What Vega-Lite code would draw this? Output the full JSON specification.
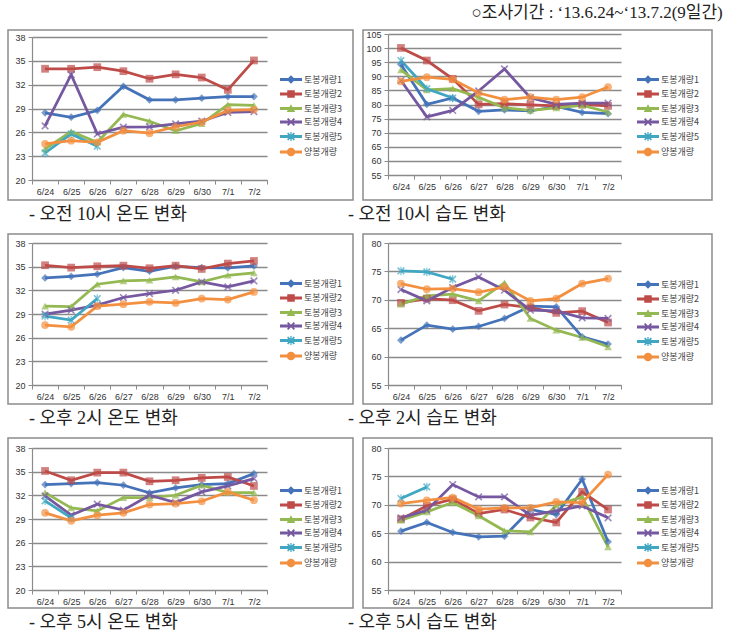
{
"$schema": "https://vega.github.io/schema/vega-lite/v6.json",
"background": "white",
"padding": {"left": 7, "top": 4, "right": 5, "bottom": 3},
"title": {"text": "○조사기간 : ‘13.6.24~‘13.7.2(9일간)", "anchor": "end", "fontSize": 17, "offset": 7, "dx": 10, "font": "Liberation Serif, Noto Sans CJK KR", "fontWeight": "normal", "color": "#222"},
"datasets": {
"a": [
{"date":"6/24","series":"토봉개량1","value":28.45},{"date":"6/25","series":"토봉개량1","value":27.9},{"date":"6/26","series":"토봉개량1","value":28.75},{"date":"6/27","series":"토봉개량1","value":31.8},{"date":"6/28","series":"토봉개량1","value":30.1},{"date":"6/29","series":"토봉개량1","value":30.1},{"date":"6/30","series":"토봉개량1","value":30.3},{"date":"7/1","series":"토봉개량1","value":30.5},{"date":"7/2","series":"토봉개량1","value":30.5},
{"date":"6/24","series":"토봉개량2","value":34.0},{"date":"6/25","series":"토봉개량2","value":34.0},{"date":"6/26","series":"토봉개량2","value":34.2},{"date":"6/27","series":"토봉개량2","value":33.7},{"date":"6/28","series":"토봉개량2","value":32.75},{"date":"6/29","series":"토봉개량2","value":33.3},{"date":"6/30","series":"토봉개량2","value":32.9},{"date":"7/1","series":"토봉개량2","value":31.35},{"date":"7/2","series":"토봉개량2","value":35.05},
{"date":"6/24","series":"토봉개량3","value":23.9},{"date":"6/25","series":"토봉개량3","value":26.1},{"date":"6/26","series":"토봉개량3","value":24.75},{"date":"6/27","series":"토봉개량3","value":28.25},{"date":"6/28","series":"토봉개량3","value":27.4},{"date":"6/29","series":"토봉개량3","value":26.2},{"date":"6/30","series":"토봉개량3","value":27.1},{"date":"7/1","series":"토봉개량3","value":29.5},{"date":"7/2","series":"토봉개량3","value":29.4},
{"date":"6/24","series":"토봉개량4","value":26.8},{"date":"6/25","series":"토봉개량4","value":33.25},{"date":"6/26","series":"토봉개량4","value":25.8},{"date":"6/27","series":"토봉개량4","value":26.65},{"date":"6/28","series":"토봉개량4","value":26.7},{"date":"6/29","series":"토봉개량4","value":27.05},{"date":"6/30","series":"토봉개량4","value":27.4},{"date":"7/1","series":"토봉개량4","value":28.5},{"date":"7/2","series":"토봉개량4","value":28.6},
{"date":"6/24","series":"토봉개량5","value":23.4},{"date":"6/25","series":"토봉개량5","value":25.8},{"date":"6/26","series":"토봉개량5","value":24.25},
{"date":"6/24","series":"양봉개량","value":24.55},{"date":"6/25","series":"양봉개량","value":24.95},{"date":"6/26","series":"양봉개량","value":24.75},{"date":"6/27","series":"양봉개량","value":26.2},{"date":"6/28","series":"양봉개량","value":25.9},{"date":"6/29","series":"양봉개량","value":26.7},{"date":"6/30","series":"양봉개량","value":27.3},{"date":"7/1","series":"양봉개량","value":28.75},{"date":"7/2","series":"양봉개량","value":28.85}
],
"b": [
{"date":"6/24","series":"토봉개량1","value":94.2},{"date":"6/25","series":"토봉개량1","value":80.05},{"date":"6/26","series":"토봉개량1","value":82.3},{"date":"6/27","series":"토봉개량1","value":77.6},{"date":"6/28","series":"토봉개량1","value":78.1},{"date":"6/29","series":"토봉개량1","value":77.7},{"date":"6/30","series":"토봉개량1","value":79.3},{"date":"7/1","series":"토봉개량1","value":77.2},{"date":"7/2","series":"토봉개량1","value":76.8},
{"date":"6/24","series":"토봉개량2","value":100.05},{"date":"6/25","series":"토봉개량2","value":95.6},{"date":"6/26","series":"토봉개량2","value":89.1},{"date":"6/27","series":"토봉개량2","value":80.05},{"date":"6/28","series":"토봉개량2","value":80.3},{"date":"6/29","series":"토봉개량2","value":79.9},{"date":"6/30","series":"토봉개량2","value":79.5},{"date":"7/1","series":"토봉개량2","value":80.05},{"date":"7/2","series":"토봉개량2","value":79.5},
{"date":"6/24","series":"토봉개량3","value":92.3},{"date":"6/25","series":"토봉개량3","value":85.2},{"date":"6/26","series":"토봉개량3","value":85.6},{"date":"6/27","series":"토봉개량3","value":82.6},{"date":"6/28","series":"토봉개량3","value":78.8},{"date":"6/29","series":"토봉개량3","value":77.9},{"date":"6/30","series":"토봉개량3","value":78.8},{"date":"7/1","series":"토봉개량3","value":79.7},{"date":"7/2","series":"토봉개량3","value":77.35},
{"date":"6/24","series":"토봉개량4","value":88.5},{"date":"6/25","series":"토봉개량4","value":75.6},{"date":"6/26","series":"토봉개량4","value":77.9},{"date":"6/27","series":"토봉개량4","value":84.8},{"date":"6/28","series":"토봉개량4","value":92.6},{"date":"6/29","series":"토봉개량4","value":82.4},{"date":"6/30","series":"토봉개량4","value":80.05},{"date":"7/1","series":"토봉개량4","value":80.5},{"date":"7/2","series":"토봉개량4","value":80.5},
{"date":"6/24","series":"토봉개량5","value":95.6},{"date":"6/25","series":"토봉개량5","value":85.6},{"date":"6/26","series":"토봉개량5","value":82.3},
{"date":"6/24","series":"양봉개량","value":88.2},{"date":"6/25","series":"양봉개량","value":89.7},{"date":"6/26","series":"양봉개량","value":88.9},{"date":"6/27","series":"양봉개량","value":84.05},{"date":"6/28","series":"양봉개량","value":81.7},{"date":"6/29","series":"양봉개량","value":82.6},{"date":"6/30","series":"양봉개량","value":81.7},{"date":"7/1","series":"양봉개량","value":82.6},{"date":"7/2","series":"양봉개량","value":86.2}
],
"c": [
{"date":"6/24","series":"토봉개량1","value":33.57},{"date":"6/25","series":"토봉개량1","value":33.78},{"date":"6/26","series":"토봉개량1","value":34.04},{"date":"6/27","series":"토봉개량1","value":34.88},{"date":"6/28","series":"토봉개량1","value":34.42},{"date":"6/29","series":"토봉개량1","value":35.05},{"date":"6/30","series":"토봉개량1","value":34.88},{"date":"7/1","series":"토봉개량1","value":34.84},{"date":"7/2","series":"토봉개량1","value":35.1},
{"date":"6/24","series":"토봉개량2","value":35.18},{"date":"6/25","series":"토봉개량2","value":34.88},{"date":"6/26","series":"토봉개량2","value":35.05},{"date":"6/27","series":"토봉개량2","value":35.13},{"date":"6/28","series":"토봉개량2","value":34.8},{"date":"6/29","series":"토봉개량2","value":35.13},{"date":"6/30","series":"토봉개량2","value":34.71},{"date":"7/1","series":"토봉개량2","value":35.39},{"date":"7/2","series":"토봉개량2","value":35.72},
{"date":"6/24","series":"토봉개량3","value":30.0},{"date":"6/25","series":"토봉개량3","value":29.95},{"date":"6/26","series":"토봉개량3","value":32.77},{"date":"6/27","series":"토봉개량3","value":33.19},{"date":"6/28","series":"토봉개량3","value":33.28},{"date":"6/29","series":"토봉개량3","value":33.7},{"date":"6/30","series":"토봉개량3","value":33.07},{"date":"7/1","series":"토봉개량3","value":33.91},{"date":"7/2","series":"토봉개량3","value":34.2},
{"date":"6/24","series":"토봉개량4","value":28.98},{"date":"6/25","series":"토봉개량4","value":29.48},{"date":"6/26","series":"토봉개량4","value":30.12},{"date":"6/27","series":"토봉개량4","value":31.09},{"date":"6/28","series":"토봉개량4","value":31.59},{"date":"6/29","series":"토봉개량4","value":32.01},{"date":"6/30","series":"토봉개량4","value":33.07},{"date":"7/1","series":"토봉개량4","value":32.43},{"date":"7/2","series":"토봉개량4","value":33.19},
{"date":"6/24","series":"토봉개량5","value":28.73},{"date":"6/25","series":"토봉개량5","value":28.22},{"date":"6/26","series":"토봉개량5","value":30.96},
{"date":"6/24","series":"양봉개량","value":27.59},{"date":"6/25","series":"양봉개량","value":27.38},{"date":"6/26","series":"양봉개량","value":29.99},{"date":"6/27","series":"양봉개량","value":30.24},{"date":"6/28","series":"양봉개량","value":30.54},{"date":"6/29","series":"양봉개량","value":30.41},{"date":"6/30","series":"양봉개량","value":30.96},{"date":"7/1","series":"양봉개량","value":30.83},{"date":"7/2","series":"양봉개량","value":31.8}
],
"d": [
{"date":"6/24","series":"토봉개량1","value":62.9},{"date":"6/25","series":"토봉개량1","value":65.54},{"date":"6/26","series":"토봉개량1","value":64.84},{"date":"6/27","series":"토봉개량1","value":65.3},{"date":"6/28","series":"토봉개량1","value":66.71},{"date":"6/29","series":"토봉개량1","value":68.88},{"date":"6/30","series":"토봉개량1","value":68.76},{"date":"7/1","series":"토봉개량1","value":63.49},{"date":"7/2","series":"토봉개량1","value":62.2},
{"date":"6/24","series":"토봉개량2","value":69.46},{"date":"6/25","series":"토봉개량2","value":70.22},{"date":"6/26","series":"토봉개량2","value":69.93},{"date":"6/27","series":"토봉개량2","value":68.06},{"date":"6/28","series":"토봉개량2","value":69.17},{"date":"6/29","series":"토봉개량2","value":68.64},{"date":"6/30","series":"토봉개량2","value":67.7},{"date":"7/1","series":"토봉개량2","value":68.0},{"date":"7/2","series":"토봉개량2","value":66.0},
{"date":"6/24","series":"토봉개량3","value":69.23},{"date":"6/25","series":"토봉개량3","value":70.69},{"date":"6/26","series":"토봉개량3","value":70.98},{"date":"6/27","series":"토봉개량3","value":69.81},{"date":"6/28","series":"토봉개량3","value":72.97},{"date":"6/29","series":"토봉개량3","value":66.71},{"date":"6/30","series":"토봉개량3","value":64.66},{"date":"7/1","series":"토봉개량3","value":63.37},{"date":"7/2","series":"토봉개량3","value":61.73},
{"date":"6/24","series":"토봉개량4","value":71.8},{"date":"6/25","series":"토봉개량4","value":69.81},{"date":"6/26","series":"토봉개량4","value":72.15},{"date":"6/27","series":"토봉개량4","value":74.03},{"date":"6/28","series":"토봉개량4","value":71.69},{"date":"6/29","series":"토봉개량4","value":68.17},{"date":"6/30","series":"토봉개량4","value":68.06},{"date":"7/1","series":"토봉개량4","value":66.83},{"date":"7/2","series":"토봉개량4","value":66.71},
{"date":"6/24","series":"토봉개량5","value":75.08},{"date":"6/25","series":"토봉개량5","value":74.91},{"date":"6/26","series":"토봉개량5","value":73.62},
{"date":"6/24","series":"양봉개량","value":72.86},{"date":"6/25","series":"양봉개량","value":71.86},{"date":"6/26","series":"양봉개량","value":71.98},{"date":"6/27","series":"양봉개량","value":71.33},{"date":"6/28","series":"양봉개량","value":72.27},{"date":"6/29","series":"양봉개량","value":69.81},{"date":"6/30","series":"양봉개량","value":70.22},{"date":"7/1","series":"양봉개량","value":72.86},{"date":"7/2","series":"양봉개량","value":73.74}
],
"e": [
{"date":"6/24","series":"토봉개량1","value":33.36},{"date":"6/25","series":"토봉개량1","value":33.49},{"date":"6/26","series":"토봉개량1","value":33.62},{"date":"6/27","series":"토봉개량1","value":33.28},{"date":"6/28","series":"토봉개량1","value":32.31},{"date":"6/29","series":"토봉개량1","value":32.94},{"date":"6/30","series":"토봉개량1","value":33.36},{"date":"7/1","series":"토봉개량1","value":33.49},{"date":"7/2","series":"토봉개량1","value":34.75},
{"date":"6/24","series":"토봉개량2","value":35.09},{"date":"6/25","series":"토봉개량2","value":33.91},{"date":"6/26","series":"토봉개량2","value":34.88},{"date":"6/27","series":"토봉개량2","value":34.88},{"date":"6/28","series":"토봉개량2","value":33.78},{"date":"6/29","series":"토봉개량2","value":33.91},{"date":"6/30","series":"토봉개량2","value":34.21},{"date":"7/1","series":"토봉개량2","value":34.33},{"date":"7/2","series":"토봉개량2","value":33.19},
{"date":"6/24","series":"토봉개량3","value":32.35},{"date":"6/25","series":"토봉개량3","value":30.41},{"date":"6/26","series":"토봉개량3","value":30.03},{"date":"6/27","series":"토봉개량3","value":31.72},{"date":"6/28","series":"토봉개량3","value":31.72},{"date":"6/29","series":"토봉개량3","value":32.01},{"date":"6/30","series":"토봉개량3","value":33.28},{"date":"7/1","series":"토봉개량3","value":32.35},{"date":"7/2","series":"토봉개량3","value":32.35},
{"date":"6/24","series":"토봉개량4","value":31.93},{"date":"6/25","series":"토봉개량4","value":29.48},{"date":"6/26","series":"토봉개량4","value":30.88},{"date":"6/27","series":"토봉개량4","value":30.12},{"date":"6/28","series":"토봉개량4","value":32.01},{"date":"6/29","series":"토봉개량4","value":31.09},{"date":"6/30","series":"토봉개량4","value":32.44},{"date":"7/1","series":"토봉개량4","value":33.19},{"date":"7/2","series":"토봉개량4","value":34.12},
{"date":"6/24","series":"토봉개량5","value":31.3},{"date":"6/25","series":"토봉개량5","value":29.15},
{"date":"6/24","series":"양봉개량","value":29.78},{"date":"6/25","series":"양봉개량","value":28.77},{"date":"6/26","series":"양봉개량","value":29.48},{"date":"6/27","series":"양봉개량","value":29.78},{"date":"6/28","series":"양봉개량","value":30.83},{"date":"6/29","series":"양봉개량","value":30.96},{"date":"6/30","series":"양봉개량","value":31.25},{"date":"7/1","series":"양봉개량","value":32.44},{"date":"7/2","series":"양봉개량","value":31.38}
],
"f": [
{"date":"6/24","series":"토봉개량1","value":65.36},{"date":"6/25","series":"토봉개량1","value":66.89},{"date":"6/26","series":"토봉개량1","value":65.13},{"date":"6/27","series":"토봉개량1","value":64.37},{"date":"6/28","series":"토봉개량1","value":64.48},{"date":"6/29","series":"토봉개량1","value":69.17},{"date":"6/30","series":"토봉개량1","value":68.29},{"date":"7/1","series":"토봉개량1","value":74.5},{"date":"7/2","series":"토봉개량1","value":63.49},
{"date":"6/24","series":"토봉개량2","value":67.47},{"date":"6/25","series":"토봉개량2","value":69.81},{"date":"6/26","series":"토봉개량2","value":70.98},{"date":"6/27","series":"토봉개량2","value":68.47},{"date":"6/28","series":"토봉개량2","value":69.17},{"date":"6/29","series":"토봉개량2","value":67.76},{"date":"6/30","series":"토봉개량2","value":66.89},{"date":"7/1","series":"토봉개량2","value":72.27},{"date":"7/2","series":"토봉개량2","value":69.17},
{"date":"6/24","series":"토봉개량3","value":67.29},{"date":"6/25","series":"토봉개량3","value":68.76},{"date":"6/26","series":"토봉개량3","value":70.4},{"date":"6/27","series":"토봉개량3","value":68.06},{"date":"6/28","series":"토봉개량3","value":65.42},{"date":"6/29","series":"토봉개량3","value":65.25},{"date":"6/30","series":"토봉개량3","value":69.93},{"date":"7/1","series":"토봉개량3","value":71.39},{"date":"7/2","series":"토봉개량3","value":62.61},
{"date":"6/24","series":"토봉개량4","value":67.7},{"date":"6/25","series":"토봉개량4","value":69.05},{"date":"6/26","series":"토봉개량4","value":73.56},{"date":"6/27","series":"토봉개량4","value":71.39},{"date":"6/28","series":"토봉개량4","value":71.39},{"date":"6/29","series":"토봉개량4","value":68.17},{"date":"6/30","series":"토봉개량4","value":68.93},{"date":"7/1","series":"토봉개량4","value":69.81},{"date":"7/2","series":"토봉개량4","value":67.7},
{"date":"6/24","series":"토봉개량5","value":71.1},{"date":"6/25","series":"토봉개량5","value":73.15},
{"date":"6/24","series":"양봉개량","value":70.22},{"date":"6/25","series":"양봉개량","value":70.8},{"date":"6/26","series":"양봉개량","value":71.28},{"date":"6/27","series":"양봉개량","value":69.23},{"date":"6/28","series":"양봉개량","value":69.46},{"date":"6/29","series":"양봉개량","value":69.46},{"date":"6/30","series":"양봉개량","value":70.51},{"date":"7/1","series":"양봉개량","value":70.4},{"date":"7/2","series":"양봉개량","value":75.32}
]
},
"vconcat": [
{"hconcat": [
{"data": {"name": "a"}, "width": 345, "height": 170,
 "title": {"text": "- 오전 10시 온도 변화", "orient": "bottom", "anchor": "start", "frame": "group", "offset": 6, "dx": 21, "fontSize": 18, "baseline": "top"},
 "encoding": {
  "x": {"field": "date", "type": "ordinal", "title": null, "scale": {"type": "band", "domain": ["6/24","6/25","6/26","6/27","6/28","6/29","6/30","7/1","7/2"], "range": [24, 259], "paddingInner": 0, "paddingOuter": 0}, "axis": {"offset": -20}},
  "y": {"field": "value", "type": "quantitative", "title": null, "scale": {"domain": [20, 38], "range": [150, 7], "nice": false, "zero": false}, "axis": {"values": [20,23,26,29,32,35,38], "offset": -24}}
 },
 "layer": [
  {"mark": "line", "encoding": {"stroke": {"field": "series", "type": "nominal", "scale": {"domain": ["토봉개량5","토봉개량1","토봉개량2","토봉개량3","토봉개량4","양봉개량"], "range": ["#40A6C2","#4573B9","#BE4B48","#94B952","#7558A0","#F39040"]}, "legend": null}}},
  {"mark": "point", "encoding": {
    "fill": {"field": "series", "type": "nominal", "scale": {"domain": ["양봉개량","토봉개량1","토봉개량2","토봉개량3","토봉개량4","토봉개량5"], "range": ["#F39040","#4573B9","#BE4B48","#94B952","#7558A0","#40A6C2"]}, "legend": null},
    "shape": {"field": "series", "type": "nominal", "scale": {"domain": ["양봉개량","토봉개량1","토봉개량2","토봉개량3","토봉개량4","토봉개량5"], "range": ["circle","diamond","square","triangle-up","M-1,-0.7L-0.7,-1L0,-0.3L0.7,-1L1,-0.7L0.3,0L1,0.7L0.7,1L0,0.3L-0.7,1L-1,0.7L-0.3,0Z","M-1,-0.7L-0.7,-1L0,-0.3L0.7,-1L1,-0.7L0.3,0L1,0.7L0.7,1L0,0.3L-0.7,1L-1,0.7L-0.3,0ZM-0.15,-1.1H0.15V1.1H-0.15Z"]}, "legend": null}}},
  {"mark": {"type": "point", "opacity": 0}, "encoding": {
    "fill": {"field": "series", "type": "nominal", "scale": {"domain": ["토봉개량1","토봉개량2","토봉개량3","토봉개량4","토봉개량5","양봉개량"], "range": ["#4573B9","#BE4B48","#94B952","#7558A0","#40A6C2","#F39040"]}, "legend": {"orient": "none", "title": null, "legendX": 277, "legendY": 43.5, "symbolOpacity": 1}},
    "shape": {"field": "series", "type": "nominal", "scale": {"domain": ["토봉개량1","토봉개량2","토봉개량3","토봉개량4","토봉개량5","양봉개량"], "range": ["M-2.2,-0.28H2.2V0.28H-2.2ZM0,-0.85L0.85,0L0,0.85L-0.85,0Z","M-2.2,-0.28H2.2V0.28H-2.2ZM-0.75,-0.75H0.75V0.75H-0.75Z","M-2.2,-0.28H2.2V0.28H-2.2ZM0,-0.85L0.85,0.7H-0.85Z","M-2.2,-0.28H2.2V0.28H-2.2ZM-0.8,-0.56L-0.56,-0.8L0,-0.24L0.56,-0.8L0.8,-0.56L0.24,0L0.8,0.56L0.56,0.8L0,0.24L-0.56,0.8L-0.8,0.56L-0.24,0Z","M-2.2,-0.28H2.2V0.28H-2.2ZM-0.8,-0.56L-0.56,-0.8L0,-0.24L0.56,-0.8L0.8,-0.56L0.24,0L0.8,0.56L0.56,0.8L0,0.24L-0.56,0.8L-0.8,0.56L-0.24,0ZM-0.12,-0.9H0.12V0.9H-0.12Z","M-2.2,-0.28H2.2V0.28H-2.2ZM-0.85,0A0.85,0.85 0 1,1 0.85,0A0.85,0.85 0 1,1 -0.85,0Z"]}, "legend": {"orient": "none", "title": null, "legendX": 277, "legendY": 43.5, "symbolOpacity": 1}}}}
 ],
 "resolve": {"scale": {"fill": "independent", "stroke": "independent", "shape": "independent"}, "legend": {"fill": "independent", "stroke": "independent", "shape": "independent"}}
},
{"data": {"name": "b"}, "width": 349, "height": 170,
 "title": {"text": "- 오전 10시 습도 변화", "orient": "bottom", "anchor": "start", "frame": "group", "offset": 6, "dx": -15, "fontSize": 18, "baseline": "top"},
 "encoding": {
  "x": {"field": "date", "type": "ordinal", "title": null, "scale": {"type": "band", "domain": ["6/24","6/25","6/26","6/27","6/28","6/29","6/30","7/1","7/2"], "range": [25, 258], "paddingInner": 0, "paddingOuter": 0}, "axis": {"offset": -25}},
  "y": {"field": "value", "type": "quantitative", "title": null, "scale": {"domain": [55, 105], "range": [145, 4], "nice": false, "zero": false}, "axis": {"values": [55,60,65,70,75,80,85,90,95,100,105], "offset": -25}}
 },
 "layer": [
  {"mark": "line", "encoding": {"stroke": {"field": "series", "type": "nominal", "scale": {"domain": ["토봉개량5","토봉개량1","토봉개량2","토봉개량3","토봉개량4","양봉개량"], "range": ["#40A6C2","#4573B9","#BE4B48","#94B952","#7558A0","#F39040"]}, "legend": null}}},
  {"mark": "point", "encoding": {
    "fill": {"field": "series", "type": "nominal", "scale": {"domain": ["양봉개량","토봉개량1","토봉개량2","토봉개량3","토봉개량4","토봉개량5"], "range": ["#F39040","#4573B9","#BE4B48","#94B952","#7558A0","#40A6C2"]}, "legend": null},
    "shape": {"field": "series", "type": "nominal", "scale": {"domain": ["양봉개량","토봉개량1","토봉개량2","토봉개량3","토봉개량4","토봉개량5"], "range": ["circle","diamond","square","triangle-up","M-1,-0.7L-0.7,-1L0,-0.3L0.7,-1L1,-0.7L0.3,0L1,0.7L0.7,1L0,0.3L-0.7,1L-1,0.7L-0.3,0Z","M-1,-0.7L-0.7,-1L0,-0.3L0.7,-1L1,-0.7L0.3,0L1,0.7L0.7,1L0,0.3L-0.7,1L-1,0.7L-0.3,0ZM-0.15,-1.1H0.15V1.1H-0.15Z"]}, "legend": null}}},
  {"mark": {"type": "point", "opacity": 0}, "encoding": {
    "fill": {"field": "series", "type": "nominal", "scale": {"domain": ["토봉개량1","토봉개량2","토봉개량3","토봉개량4","토봉개량5","양봉개량"], "range": ["#4573B9","#BE4B48","#94B952","#7558A0","#40A6C2","#F39040"]}, "legend": {"orient": "none", "title": null, "legendX": 279, "legendY": 43.5, "symbolOpacity": 1}},
    "shape": {"field": "series", "type": "nominal", "scale": {"domain": ["토봉개량1","토봉개량2","토봉개량3","토봉개량4","토봉개량5","양봉개량"], "range": ["M-2.2,-0.28H2.2V0.28H-2.2ZM0,-0.85L0.85,0L0,0.85L-0.85,0Z","M-2.2,-0.28H2.2V0.28H-2.2ZM-0.75,-0.75H0.75V0.75H-0.75Z","M-2.2,-0.28H2.2V0.28H-2.2ZM0,-0.85L0.85,0.7H-0.85Z","M-2.2,-0.28H2.2V0.28H-2.2ZM-0.8,-0.56L-0.56,-0.8L0,-0.24L0.56,-0.8L0.8,-0.56L0.24,0L0.8,0.56L0.56,0.8L0,0.24L-0.56,0.8L-0.8,0.56L-0.24,0Z","M-2.2,-0.28H2.2V0.28H-2.2ZM-0.8,-0.56L-0.56,-0.8L0,-0.24L0.56,-0.8L0.8,-0.56L0.24,0L0.8,0.56L0.56,0.8L0,0.24L-0.56,0.8L-0.8,0.56L-0.24,0ZM-0.12,-0.9H0.12V0.9H-0.12Z","M-2.2,-0.28H2.2V0.28H-2.2ZM-0.85,0A0.85,0.85 0 1,1 0.85,0A0.85,0.85 0 1,1 -0.85,0Z"]}, "legend": {"orient": "none", "title": null, "legendX": 279, "legendY": 43.5, "symbolOpacity": 1}}}}
 ],
 "resolve": {"scale": {"fill": "independent", "stroke": "independent", "shape": "independent"}, "legend": {"fill": "independent", "stroke": "independent", "shape": "independent"}}
}
], "spacing": -7, "resolve": {"scale": {"fill": "independent", "stroke": "independent", "shape": "independent"}, "legend": {"fill": "independent", "stroke": "independent", "shape": "independent"}}},
{"hconcat": [
{"data": {"name": "c"}, "width": 345, "height": 170,
 "title": {"text": "- 오후 2시 온도 변화", "orient": "bottom", "anchor": "start", "frame": "group", "offset": 6, "dx": 21, "fontSize": 18, "baseline": "top"},
 "encoding": {
  "x": {"field": "date", "type": "ordinal", "title": null, "scale": {"type": "band", "domain": ["6/24","6/25","6/26","6/27","6/28","6/29","6/30","7/1","7/2"], "range": [24, 259], "paddingInner": 0, "paddingOuter": 0}, "axis": {"offset": -19}},
  "y": {"field": "value", "type": "quantitative", "title": null, "scale": {"domain": [20, 38], "range": [151, 9], "nice": false, "zero": false}, "axis": {"values": [20,23,26,29,32,35,38], "offset": -24}}
 },
 "layer": [
  {"mark": "line", "encoding": {"stroke": {"field": "series", "type": "nominal", "scale": {"domain": ["토봉개량5","토봉개량1","토봉개량2","토봉개량3","토봉개량4","양봉개량"], "range": ["#40A6C2","#4573B9","#BE4B48","#94B952","#7558A0","#F39040"]}, "legend": null}}},
  {"mark": "point", "encoding": {
    "fill": {"field": "series", "type": "nominal", "scale": {"domain": ["양봉개량","토봉개량1","토봉개량2","토봉개량3","토봉개량4","토봉개량5"], "range": ["#F39040","#4573B9","#BE4B48","#94B952","#7558A0","#40A6C2"]}, "legend": null},
    "shape": {"field": "series", "type": "nominal", "scale": {"domain": ["양봉개량","토봉개량1","토봉개량2","토봉개량3","토봉개량4","토봉개량5"], "range": ["circle","diamond","square","triangle-up","M-1,-0.7L-0.7,-1L0,-0.3L0.7,-1L1,-0.7L0.3,0L1,0.7L0.7,1L0,0.3L-0.7,1L-1,0.7L-0.3,0Z","M-1,-0.7L-0.7,-1L0,-0.3L0.7,-1L1,-0.7L0.3,0L1,0.7L0.7,1L0,0.3L-0.7,1L-1,0.7L-0.3,0ZM-0.15,-1.1H0.15V1.1H-0.15Z"]}, "legend": null}}},
  {"mark": {"type": "point", "opacity": 0}, "encoding": {
    "fill": {"field": "series", "type": "nominal", "scale": {"domain": ["토봉개량1","토봉개량2","토봉개량3","토봉개량4","토봉개량5","양봉개량"], "range": ["#4573B9","#BE4B48","#94B952","#7558A0","#40A6C2","#F39040"]}, "legend": {"orient": "none", "title": null, "legendX": 277, "legendY": 43.5, "symbolOpacity": 1}},
    "shape": {"field": "series", "type": "nominal", "scale": {"domain": ["토봉개량1","토봉개량2","토봉개량3","토봉개량4","토봉개량5","양봉개량"], "range": ["M-2.2,-0.28H2.2V0.28H-2.2ZM0,-0.85L0.85,0L0,0.85L-0.85,0Z","M-2.2,-0.28H2.2V0.28H-2.2ZM-0.75,-0.75H0.75V0.75H-0.75Z","M-2.2,-0.28H2.2V0.28H-2.2ZM0,-0.85L0.85,0.7H-0.85Z","M-2.2,-0.28H2.2V0.28H-2.2ZM-0.8,-0.56L-0.56,-0.8L0,-0.24L0.56,-0.8L0.8,-0.56L0.24,0L0.8,0.56L0.56,0.8L0,0.24L-0.56,0.8L-0.8,0.56L-0.24,0Z","M-2.2,-0.28H2.2V0.28H-2.2ZM-0.8,-0.56L-0.56,-0.8L0,-0.24L0.56,-0.8L0.8,-0.56L0.24,0L0.8,0.56L0.56,0.8L0,0.24L-0.56,0.8L-0.8,0.56L-0.24,0ZM-0.12,-0.9H0.12V0.9H-0.12Z","M-2.2,-0.28H2.2V0.28H-2.2ZM-0.85,0A0.85,0.85 0 1,1 0.85,0A0.85,0.85 0 1,1 -0.85,0Z"]}, "legend": {"orient": "none", "title": null, "legendX": 277, "legendY": 43.5, "symbolOpacity": 1}}}}
 ],
 "resolve": {"scale": {"fill": "independent", "stroke": "independent", "shape": "independent"}, "legend": {"fill": "independent", "stroke": "independent", "shape": "independent"}}
},
{"data": {"name": "d"}, "width": 349, "height": 170,
 "title": {"text": "- 오후 2시 습도 변화", "orient": "bottom", "anchor": "start", "frame": "group", "offset": 6, "dx": -15, "fontSize": 18, "baseline": "top"},
 "encoding": {
  "x": {"field": "date", "type": "ordinal", "title": null, "scale": {"type": "band", "domain": ["6/24","6/25","6/26","6/27","6/28","6/29","6/30","7/1","7/2"], "range": [25, 258], "paddingInner": 0, "paddingOuter": 0}, "axis": {"offset": -19}},
  "y": {"field": "value", "type": "quantitative", "title": null, "scale": {"domain": [55, 80], "range": [151, 9], "nice": false, "zero": false}, "axis": {"values": [55,60,65,70,75,80], "offset": -25}}
 },
 "layer": [
  {"mark": "line", "encoding": {"stroke": {"field": "series", "type": "nominal", "scale": {"domain": ["토봉개량5","토봉개량1","토봉개량2","토봉개량3","토봉개량4","양봉개량"], "range": ["#40A6C2","#4573B9","#BE4B48","#94B952","#7558A0","#F39040"]}, "legend": null}}},
  {"mark": "point", "encoding": {
    "fill": {"field": "series", "type": "nominal", "scale": {"domain": ["양봉개량","토봉개량1","토봉개량2","토봉개량3","토봉개량4","토봉개량5"], "range": ["#F39040","#4573B9","#BE4B48","#94B952","#7558A0","#40A6C2"]}, "legend": null},
    "shape": {"field": "series", "type": "nominal", "scale": {"domain": ["양봉개량","토봉개량1","토봉개량2","토봉개량3","토봉개량4","토봉개량5"], "range": ["circle","diamond","square","triangle-up","M-1,-0.7L-0.7,-1L0,-0.3L0.7,-1L1,-0.7L0.3,0L1,0.7L0.7,1L0,0.3L-0.7,1L-1,0.7L-0.3,0Z","M-1,-0.7L-0.7,-1L0,-0.3L0.7,-1L1,-0.7L0.3,0L1,0.7L0.7,1L0,0.3L-0.7,1L-1,0.7L-0.3,0ZM-0.15,-1.1H0.15V1.1H-0.15Z"]}, "legend": null}}},
  {"mark": {"type": "point", "opacity": 0}, "encoding": {
    "fill": {"field": "series", "type": "nominal", "scale": {"domain": ["토봉개량1","토봉개량2","토봉개량3","토봉개량4","토봉개량5","양봉개량"], "range": ["#4573B9","#BE4B48","#94B952","#7558A0","#40A6C2","#F39040"]}, "legend": {"orient": "none", "title": null, "legendX": 279, "legendY": 44.5, "symbolOpacity": 1}},
    "shape": {"field": "series", "type": "nominal", "scale": {"domain": ["토봉개량1","토봉개량2","토봉개량3","토봉개량4","토봉개량5","양봉개량"], "range": ["M-2.2,-0.28H2.2V0.28H-2.2ZM0,-0.85L0.85,0L0,0.85L-0.85,0Z","M-2.2,-0.28H2.2V0.28H-2.2ZM-0.75,-0.75H0.75V0.75H-0.75Z","M-2.2,-0.28H2.2V0.28H-2.2ZM0,-0.85L0.85,0.7H-0.85Z","M-2.2,-0.28H2.2V0.28H-2.2ZM-0.8,-0.56L-0.56,-0.8L0,-0.24L0.56,-0.8L0.8,-0.56L0.24,0L0.8,0.56L0.56,0.8L0,0.24L-0.56,0.8L-0.8,0.56L-0.24,0Z","M-2.2,-0.28H2.2V0.28H-2.2ZM-0.8,-0.56L-0.56,-0.8L0,-0.24L0.56,-0.8L0.8,-0.56L0.24,0L0.8,0.56L0.56,0.8L0,0.24L-0.56,0.8L-0.8,0.56L-0.24,0ZM-0.12,-0.9H0.12V0.9H-0.12Z","M-2.2,-0.28H2.2V0.28H-2.2ZM-0.85,0A0.85,0.85 0 1,1 0.85,0A0.85,0.85 0 1,1 -0.85,0Z"]}, "legend": {"orient": "none", "title": null, "legendX": 279, "legendY": 44.5, "symbolOpacity": 1}}}}
 ],
 "resolve": {"scale": {"fill": "independent", "stroke": "independent", "shape": "independent"}, "legend": {"fill": "independent", "stroke": "independent", "shape": "independent"}}
}
], "spacing": -7, "resolve": {"scale": {"fill": "independent", "stroke": "independent", "shape": "independent"}, "legend": {"fill": "independent", "stroke": "independent", "shape": "independent"}}},
{"hconcat": [
{"data": {"name": "e"}, "width": 345, "height": 170,
 "title": {"text": "- 오후 5시 온도 변화", "orient": "bottom", "anchor": "start", "frame": "group", "offset": 6, "dx": 21, "fontSize": 18, "baseline": "top"},
 "encoding": {
  "x": {"field": "date", "type": "ordinal", "title": null, "scale": {"type": "band", "domain": ["6/24","6/25","6/26","6/27","6/28","6/29","6/30","7/1","7/2"], "range": [24, 259], "paddingInner": 0, "paddingOuter": 0}, "axis": {"offset": -18}},
  "y": {"field": "value", "type": "quantitative", "title": null, "scale": {"domain": [20, 38], "range": [152, 10], "nice": false, "zero": false}, "axis": {"values": [20,23,26,29,32,35,38], "offset": -24}}
 },
 "layer": [
  {"mark": "line", "encoding": {"stroke": {"field": "series", "type": "nominal", "scale": {"domain": ["토봉개량5","토봉개량1","토봉개량2","토봉개량3","토봉개량4","양봉개량"], "range": ["#40A6C2","#4573B9","#BE4B48","#94B952","#7558A0","#F39040"]}, "legend": null}}},
  {"mark": "point", "encoding": {
    "fill": {"field": "series", "type": "nominal", "scale": {"domain": ["양봉개량","토봉개량1","토봉개량2","토봉개량3","토봉개량4","토봉개량5"], "range": ["#F39040","#4573B9","#BE4B48","#94B952","#7558A0","#40A6C2"]}, "legend": null},
    "shape": {"field": "series", "type": "nominal", "scale": {"domain": ["양봉개량","토봉개량1","토봉개량2","토봉개량3","토봉개량4","토봉개량5"], "range": ["circle","diamond","square","triangle-up","M-1,-0.7L-0.7,-1L0,-0.3L0.7,-1L1,-0.7L0.3,0L1,0.7L0.7,1L0,0.3L-0.7,1L-1,0.7L-0.3,0Z","M-1,-0.7L-0.7,-1L0,-0.3L0.7,-1L1,-0.7L0.3,0L1,0.7L0.7,1L0,0.3L-0.7,1L-1,0.7L-0.3,0ZM-0.15,-1.1H0.15V1.1H-0.15Z"]}, "legend": null}}},
  {"mark": {"type": "point", "opacity": 0}, "encoding": {
    "fill": {"field": "series", "type": "nominal", "scale": {"domain": ["토봉개량1","토봉개량2","토봉개량3","토봉개량4","토봉개량5","양봉개량"], "range": ["#4573B9","#BE4B48","#94B952","#7558A0","#40A6C2","#F39040"]}, "legend": {"orient": "none", "title": null, "legendX": 277, "legendY": 46.5, "symbolOpacity": 1}},
    "shape": {"field": "series", "type": "nominal", "scale": {"domain": ["토봉개량1","토봉개량2","토봉개량3","토봉개량4","토봉개량5","양봉개량"], "range": ["M-2.2,-0.28H2.2V0.28H-2.2ZM0,-0.85L0.85,0L0,0.85L-0.85,0Z","M-2.2,-0.28H2.2V0.28H-2.2ZM-0.75,-0.75H0.75V0.75H-0.75Z","M-2.2,-0.28H2.2V0.28H-2.2ZM0,-0.85L0.85,0.7H-0.85Z","M-2.2,-0.28H2.2V0.28H-2.2ZM-0.8,-0.56L-0.56,-0.8L0,-0.24L0.56,-0.8L0.8,-0.56L0.24,0L0.8,0.56L0.56,0.8L0,0.24L-0.56,0.8L-0.8,0.56L-0.24,0Z","M-2.2,-0.28H2.2V0.28H-2.2ZM-0.8,-0.56L-0.56,-0.8L0,-0.24L0.56,-0.8L0.8,-0.56L0.24,0L0.8,0.56L0.56,0.8L0,0.24L-0.56,0.8L-0.8,0.56L-0.24,0ZM-0.12,-0.9H0.12V0.9H-0.12Z","M-2.2,-0.28H2.2V0.28H-2.2ZM-0.85,0A0.85,0.85 0 1,1 0.85,0A0.85,0.85 0 1,1 -0.85,0Z"]}, "legend": {"orient": "none", "title": null, "legendX": 277, "legendY": 46.5, "symbolOpacity": 1}}}}
 ],
 "resolve": {"scale": {"fill": "independent", "stroke": "independent", "shape": "independent"}, "legend": {"fill": "independent", "stroke": "independent", "shape": "independent"}}
},
{"data": {"name": "f"}, "width": 349, "height": 170,
 "title": {"text": "- 오후 5시 습도 변화", "orient": "bottom", "anchor": "start", "frame": "group", "offset": 6, "dx": -15, "fontSize": 18, "baseline": "top"},
 "encoding": {
  "x": {"field": "date", "type": "ordinal", "title": null, "scale": {"type": "band", "domain": ["6/24","6/25","6/26","6/27","6/28","6/29","6/30","7/1","7/2"], "range": [25, 258], "paddingInner": 0, "paddingOuter": 0}, "axis": {"offset": -18}},
  "y": {"field": "value", "type": "quantitative", "title": null, "scale": {"domain": [55, 80], "range": [152, 10], "nice": false, "zero": false}, "axis": {"values": [55,60,65,70,75,80], "offset": -25}}
 },
 "layer": [
  {"mark": "line", "encoding": {"stroke": {"field": "series", "type": "nominal", "scale": {"domain": ["토봉개량5","토봉개량1","토봉개량2","토봉개량3","토봉개량4","양봉개량"], "range": ["#40A6C2","#4573B9","#BE4B48","#94B952","#7558A0","#F39040"]}, "legend": null}}},
  {"mark": "point", "encoding": {
    "fill": {"field": "series", "type": "nominal", "scale": {"domain": ["양봉개량","토봉개량1","토봉개량2","토봉개량3","토봉개량4","토봉개량5"], "range": ["#F39040","#4573B9","#BE4B48","#94B952","#7558A0","#40A6C2"]}, "legend": null},
    "shape": {"field": "series", "type": "nominal", "scale": {"domain": ["양봉개량","토봉개량1","토봉개량2","토봉개량3","토봉개량4","토봉개량5"], "range": ["circle","diamond","square","triangle-up","M-1,-0.7L-0.7,-1L0,-0.3L0.7,-1L1,-0.7L0.3,0L1,0.7L0.7,1L0,0.3L-0.7,1L-1,0.7L-0.3,0Z","M-1,-0.7L-0.7,-1L0,-0.3L0.7,-1L1,-0.7L0.3,0L1,0.7L0.7,1L0,0.3L-0.7,1L-1,0.7L-0.3,0ZM-0.15,-1.1H0.15V1.1H-0.15Z"]}, "legend": null}}},
  {"mark": {"type": "point", "opacity": 0}, "encoding": {
    "fill": {"field": "series", "type": "nominal", "scale": {"domain": ["토봉개량1","토봉개량2","토봉개량3","토봉개량4","토봉개량5","양봉개량"], "range": ["#4573B9","#BE4B48","#94B952","#7558A0","#40A6C2","#F39040"]}, "legend": {"orient": "none", "title": null, "legendX": 279, "legendY": 46.5, "symbolOpacity": 1}},
    "shape": {"field": "series", "type": "nominal", "scale": {"domain": ["토봉개량1","토봉개량2","토봉개량3","토봉개량4","토봉개량5","양봉개량"], "range": ["M-2.2,-0.28H2.2V0.28H-2.2ZM0,-0.85L0.85,0L0,0.85L-0.85,0Z","M-2.2,-0.28H2.2V0.28H-2.2ZM-0.75,-0.75H0.75V0.75H-0.75Z","M-2.2,-0.28H2.2V0.28H-2.2ZM0,-0.85L0.85,0.7H-0.85Z","M-2.2,-0.28H2.2V0.28H-2.2ZM-0.8,-0.56L-0.56,-0.8L0,-0.24L0.56,-0.8L0.8,-0.56L0.24,0L0.8,0.56L0.56,0.8L0,0.24L-0.56,0.8L-0.8,0.56L-0.24,0Z","M-2.2,-0.28H2.2V0.28H-2.2ZM-0.8,-0.56L-0.56,-0.8L0,-0.24L0.56,-0.8L0.8,-0.56L0.24,0L0.8,0.56L0.56,0.8L0,0.24L-0.56,0.8L-0.8,0.56L-0.24,0ZM-0.12,-0.9H0.12V0.9H-0.12Z","M-2.2,-0.28H2.2V0.28H-2.2ZM-0.85,0A0.85,0.85 0 1,1 0.85,0A0.85,0.85 0 1,1 -0.85,0Z"]}, "legend": {"orient": "none", "title": null, "legendX": 279, "legendY": 46.5, "symbolOpacity": 1}}}}
 ],
 "resolve": {"scale": {"fill": "independent", "stroke": "independent", "shape": "independent"}, "legend": {"fill": "independent", "stroke": "independent", "shape": "independent"}}
}
], "spacing": -7, "resolve": {"scale": {"fill": "independent", "stroke": "independent", "shape": "independent"}, "legend": {"fill": "independent", "stroke": "independent", "shape": "independent"}}}
],
"spacing": 8,
"resolve": {"scale": {"fill": "independent", "stroke": "independent", "shape": "independent"}, "legend": {"fill": "independent", "stroke": "independent", "shape": "independent"}},
"config": {
 "view": {"stroke": "#8c8c8c", "strokeWidth": 1.5},
 "axis": {"labelFont": "Liberation Sans", "labelFontSize": 9, "labelColor": "#333333", "domainColor": "#8a8a8a", "domainWidth": 1.2, "tickColor": "#8a8a8a", "tickSize": 4, "gridColor": "#8a8a8a", "gridWidth": 1.5, "labelPadding": 3},
 "axisX": {"grid": false, "tickBand": "extent", "labelAngle": 0},
 "axisY": {"grid": true},
 "legend": {"orient": "none", "labelFont": "Noto Sans CJK KR", "labelFontSize": 9, "labelColor": "#444444", "symbolSize": 100, "labelOffset": 7, "rowPadding": -0.5, "symbolOpacity": 1},
 "title": {"font": "Liberation Serif, Noto Sans CJK KR", "fontWeight": "normal", "color": "#222222"},
 "line": {"strokeWidth": 2.75},
 "point": {"filled": true, "size": 60}
}
}
